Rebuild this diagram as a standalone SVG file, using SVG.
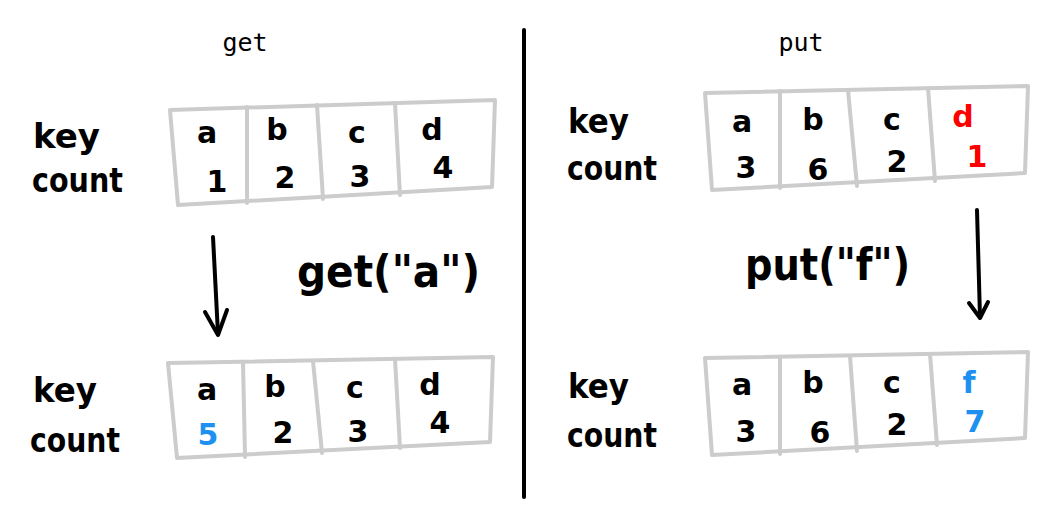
<svg xmlns="http://www.w3.org/2000/svg" width="1050" height="525" viewBox="0 0 1050 525">
<style>
.box{fill:#fff;stroke:#cccccc;stroke-width:4;stroke-linejoin:round;stroke-linecap:round}
.div{stroke:#cccccc;stroke-width:4;stroke-linecap:round}
.lbl{font-family:"DejaVu Sans",sans-serif;font-weight:bold;font-size:34px;fill:#000}
.cell{font-family:"DejaVu Sans",sans-serif;font-weight:bold;font-size:30px;fill:#000;text-anchor:middle}
.red{fill:#ff0000}
.blue{fill:#1e90f0}
.hdr{font-family:"DejaVu Sans Mono",monospace;font-size:25px;fill:#000;text-anchor:middle}
.call{font-family:"DejaVu Sans",sans-serif;font-weight:bold;font-size:44px;fill:#000}
.ln{stroke:#000;stroke-width:4;stroke-linecap:round;fill:none;stroke-linejoin:round}
</style>
<rect width="1050" height="525" fill="#fff"/>
<g id="separator"><line class="ln" x1="524" y1="30" x2="524" y2="497"/></g>
<g id="header-get"><text class="hdr" x="245" y="51">get</text></g>
<g id="header-put"><text class="hdr" x="801" y="51">put</text></g>

<g id="table-get-before">
<polygon class="box" points="170,110 495,100 492,187 178,205"/>
<line class="div" x1="247" y1="107" x2="247" y2="203"/>
<line class="div" x1="317" y1="105" x2="323" y2="199"/>
<line class="div" x1="395" y1="103" x2="400" y2="195"/>
<text class="lbl" x="33" y="148" textLength="67" lengthAdjust="spacingAndGlyphs">key</text>
<text class="lbl" x="32" y="192" textLength="91" lengthAdjust="spacingAndGlyphs">count</text>
<text class="cell" x="207" y="143">a</text><text class="cell" x="277" y="140">b</text><text class="cell" x="357" y="143">c</text><text class="cell" x="432" y="140">d</text>
<text class="cell" x="217" y="192">1</text><text class="cell" x="285" y="188">2</text><text class="cell" x="360" y="187">3</text><text class="cell" x="443" y="178">4</text>
</g>

<g id="table-put-before">
<polygon class="box" points="705,93 1028,86 1025,173 712,190"/>
<line class="div" x1="780" y1="91" x2="780" y2="188"/>
<line class="div" x1="848" y1="90" x2="857" y2="186"/>
<line class="div" x1="928" y1="88" x2="935" y2="181"/>
<text class="lbl" x="568" y="133" textLength="61" lengthAdjust="spacingAndGlyphs">key</text>
<text class="lbl" x="567" y="180" textLength="90" lengthAdjust="spacingAndGlyphs">count</text>
<text class="cell" x="742" y="132">a</text><text class="cell" x="813" y="130">b</text><text class="cell" x="892" y="130">c</text><text class="cell red" x="963" y="127">d</text>
<text class="cell" x="746" y="178">3</text><text class="cell" x="818" y="180">6</text><text class="cell" x="897" y="172">2</text><text class="cell red" x="977" y="167">1</text>
</g>

<g id="table-get-after">
<polygon class="box" points="168,363 493,357 490,442 177,458"/>
<line class="div" x1="243" y1="362" x2="245" y2="457"/>
<line class="div" x1="313" y1="361" x2="322" y2="453"/>
<line class="div" x1="395" y1="359" x2="400" y2="448"/>
<text class="lbl" x="33" y="402" textLength="64" lengthAdjust="spacingAndGlyphs">key</text>
<text class="lbl" x="30" y="452" textLength="90" lengthAdjust="spacingAndGlyphs">count</text>
<text class="cell" x="207" y="400">a</text><text class="cell" x="275" y="397">b</text><text class="cell" x="355" y="398">c</text><text class="cell" x="430" y="395">d</text>
<text class="cell blue" x="208" y="445">5</text><text class="cell" x="283" y="443">2</text><text class="cell" x="358" y="442">3</text><text class="cell" x="440" y="433">4</text>
</g>

<g id="table-put-after">
<polygon class="box" points="705,358 1028,352 1025,438 712,455"/>
<line class="div" x1="780" y1="357" x2="780" y2="454"/>
<line class="div" x1="850" y1="356" x2="857" y2="451"/>
<line class="div" x1="930" y1="354" x2="937" y2="445"/>
<text class="lbl" x="568" y="398" textLength="61" lengthAdjust="spacingAndGlyphs">key</text>
<text class="lbl" x="567" y="447" textLength="90" lengthAdjust="spacingAndGlyphs">count</text>
<text class="cell" x="742" y="395">a</text><text class="cell" x="813" y="393">b</text><text class="cell" x="892" y="393">c</text><text class="cell blue" x="969" y="393">f</text>
<text class="cell" x="746" y="442">3</text><text class="cell" x="820" y="443">6</text><text class="cell" x="897" y="435">2</text><text class="cell blue" x="975" y="432">7</text>
</g>

<g id="label-get-call"><text class="call" x="297" y="287" textLength="183" lengthAdjust="spacingAndGlyphs">get("a")</text></g>
<g id="label-put-call"><text class="call" x="745" y="280" textLength="165" lengthAdjust="spacingAndGlyphs">put("f")</text></g>

<g id="connectors">
<path class="ln" d="M213,237 L218,334"/>
<path class="ln" d="M205,312 L218,335 L227,310"/>
<path class="ln" d="M977,210 L980,317"/>
<path class="ln" d="M969,303 L980,318 L988,302"/>
</g>
</svg>
